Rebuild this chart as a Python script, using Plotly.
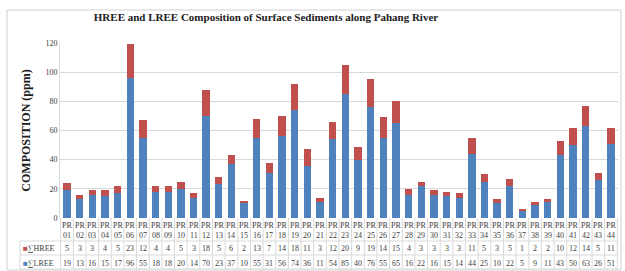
import plotly.graph_objects as go

categories = ["PR%02d" % i for i in range(1, 45)]
hree = [5, 3, 3, 4, 5, 23, 12, 4, 4, 5, 3, 18, 5, 6, 2, 13, 7, 14, 18, 11, 3, 12,
        20, 9, 19, 14, 15, 4, 3, 3, 3, 3, 11, 5, 3, 5, 1, 2, 2, 10, 12, 14, 5, 11]
lree = [19, 13, 16, 15, 17, 96, 55, 18, 18, 20, 14, 70, 23, 37, 10, 55, 31, 56, 74, 36, 11, 54,
        85, 40, 76, 55, 65, 16, 22, 16, 15, 14, 44, 25, 10, 22, 5, 9, 11, 43, 50, 63, 26, 51]
y_ticks = [0, 20, 40, 60, 80, 100, 120]

BLUE = "#4F81BD"
RED = "#C0504D"
FONT = "Liberation Serif"

W, H = 625, 271
ML, MR, MT, MB = 60, 7, 43, 53
PW = W - ML - MR
PH = H - MT - MB

fig = go.Figure()
fig.add_trace(go.Bar(x=categories, y=lree, name="∑LREE", marker=dict(color=BLUE, line=dict(width=0))))
fig.add_trace(go.Bar(x=categories, y=hree, name="∑HREE", marker=dict(color=RED, line=dict(width=0))))

def py(pix):
    return (MT + PH - pix) / PH

def px(pix):
    return (pix - ML) / PW

ann = []
shapes = []
tf = dict(family=FONT, size=8, color="#404040")
for i, c in enumerate(categories):
    ann.append(dict(x=c, xref="x", y=0, yref="paper", yanchor="middle", yshift=-7,
                    text="PR", showarrow=False, font=tf))
    ann.append(dict(x=c, xref="x", y=0, yref="paper", yanchor="middle", yshift=-17,
                    text=c[2:], showarrow=False, font=tf))
    ann.append(dict(x=c, xref="x", y=0, yref="paper", yanchor="middle", yshift=-30,
                    text=str(hree[i]), showarrow=False, font=tf))
    ann.append(dict(x=c, xref="x", y=0, yref="paper", yanchor="middle", yshift=-45,
                    text=str(lree[i]), showarrow=False, font=tf))

ann.append(dict(x=px(21), xref="paper", xanchor="left", y=py(248), yref="paper", yanchor="middle",
                text="<span style='color:%s'>■</span>∑HREE" % RED, showarrow=False, font=tf))
ann.append(dict(x=px(21), xref="paper", xanchor="left", y=py(263), yref="paper", yanchor="middle",
                text="<span style='color:%s'>■</span>∑LREE" % BLUE, showarrow=False, font=tf))

gl = dict(color="#d9d9d9", width=1)
for i in range(len(categories) + 1):
    shapes.append(dict(type="line", xref="x", yref="paper", x0=i - 0.5, x1=i - 0.5,
                       y0=0, y1=py(269), line=gl))
for yy in [241, 255, 269]:
    shapes.append(dict(type="line", xref="paper", yref="paper", x0=px(20), x1=1,
                       y0=py(yy), y1=py(yy), line=gl))
shapes.append(dict(type="line", xref="paper", yref="paper", x0=px(20), x1=px(20),
                   y0=py(241), y1=py(269), line=gl))
shapes.append(dict(type="rect", xref="paper", yref="paper", x0=px(7), x1=px(621),
                   y0=py(10), y1=py(270), line=dict(color="#d0d0d0", width=1), layer="below"))

fig.update_layout(
    width=W, height=H,
    margin=dict(l=ML, r=MR, t=MT, b=MB),
    barmode="stack", bargap=0.42,
    showlegend=False,
    plot_bgcolor="white", paper_bgcolor="white",
    title=dict(text="<b>HREE and LREE Composition of Surface Sediments along Pahang River</b>",
               x=266 / W, xanchor="center", xref="container", y=1 - 17 / H, yanchor="middle",
               font=dict(family=FONT, size=11, color="#202020")),
    xaxis=dict(type="category", showticklabels=False, ticks="", showgrid=False,
               showline=False, zeroline=False),
    yaxis=dict(range=[0, 120], tickvals=y_ticks, showgrid=True, gridcolor="#d9d9d9",
               gridwidth=1, zeroline=False, showline=True, linecolor="#d9d9d9",
               ticks="", ticklen=0,
               tickfont=dict(family=FONT, size=8, color="#404040"),
               title=dict(text="<b>COMPOSITION (ppm)</b>", standoff=12,
                          font=dict(family=FONT, size=12, color="#202020"))),
    annotations=ann, shapes=shapes,
)

fig.write_html("out.html", config={"displayModeBar": False},
               post_script="document.body.style.margin='0';document.body.style.overflow='hidden';")
